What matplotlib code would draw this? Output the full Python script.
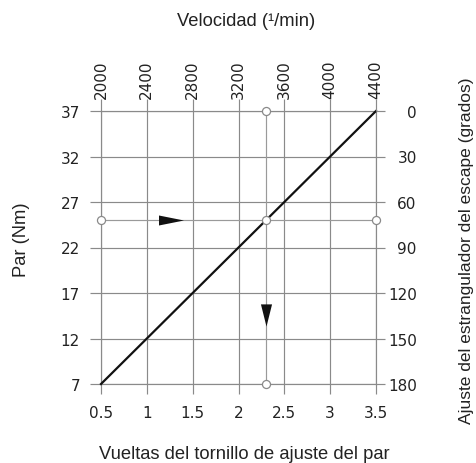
import matplotlib
matplotlib.use("Agg")
import matplotlib.pyplot as plt

# ---- data ----
turns_ticks = [0.5, 1, 1.5, 2, 2.5, 3, 3.5]
speed_ticks = [2000, 2400, 2800, 3200, 3600, 4000, 4400]
torque_ticks = [7, 12, 17, 22, 27, 32, 37]
throttle_ticks = [0, 30, 60, 90, 120, 150, 180]

line_turns = [0.5, 3.5]
line_torque = [7, 37]

ref_turns = 2.3
ref_torque = 25
arrow_h_turns = 1.26
arrow_v_torque = 14.6

title = "Velocidad (¹/min)"
xlabel = "Vueltas del tornillo de ajuste del par"
ylabel = "Par (Nm)"
y2label = "Ajuste del estrangulador del escape (grados)"

W, H = 476, 464
fig = plt.figure(figsize=(W / 100, H / 100), dpi=100)
ax = fig.add_axes([101 / W, 1 - 385 / H, 275 / W, 273 / H])

grid_c = "#8a8a8a"
num_font = "DejaVu Sans"
txt_font = "Liberation Sans"
nsize = 11
tsize = 13.2
glw = 0.85

ax.set_xlim(turns_ticks[0], turns_ticks[-1])
ax.set_ylim(torque_ticks[0], torque_ticks[-1])
ax.set_xticks(turns_ticks)
ax.set_xticklabels([f"{t:g}" for t in turns_ticks], family=num_font, fontsize=nsize)
ax.set_yticks(torque_ticks)
ax.set_yticklabels([str(t) for t in torque_ticks], family=num_font, fontsize=nsize)
ax.grid(True, color=grid_c, lw=glw)
for s in ax.spines.values():
    s.set_color(grid_c)
    s.set_linewidth(glw)
ax.tick_params(axis="x", length=7.2, width=glw, color=grid_c, pad=8.2, labelcolor="#222222")
ax.tick_params(axis="y", length=7.9, width=glw, color=grid_c, pad=7.2, labelcolor="#222222")

# top axis: speed
axt = ax.twiny()
axt.set_xlim(speed_ticks[0], speed_ticks[-1])
axt.set_xticks(speed_ticks)
axt.set_xticklabels([str(s) for s in speed_ticks], rotation=90, family=num_font,
                    fontsize=nsize, va="bottom")
axt.tick_params(axis="x", length=8.6, width=glw, color=grid_c, pad=0.5, labelcolor="#222222")
for s in axt.spines.values():
    s.set_visible(False)

# right axis: throttle
axr = ax.twinx()
axr.set_ylim(throttle_ticks[-1], throttle_ticks[0])
axr.set_yticks(throttle_ticks)
axr.set_yticklabels([str(t) for t in throttle_ticks], family=num_font, fontsize=nsize, ha="right")
axr.tick_params(axis="y", length=6.5, width=glw, color=grid_c, pad=22.8, labelcolor="#222222")
for s in axr.spines.values():
    s.set_visible(False)

# reference lines
ax.plot([ref_turns, ref_turns], [torque_ticks[0], torque_ticks[-1]], color="#9a9a9a", lw=glw, zorder=3)
ax.plot([turns_ticks[0], turns_ticks[-1]], [ref_torque, ref_torque], color="#9a9a9a", lw=glw, zorder=3)

# main line
ax.plot(line_turns, line_torque, color="#111111", lw=1.6, zorder=4, clip_on=False)

# circles
cx = [ref_turns, ref_turns, ref_turns, turns_ticks[0], turns_ticks[-1]]
cy = [torque_ticks[-1], ref_torque, torque_ticks[0], ref_torque, ref_torque]
ax.plot(cx, cy, "o", ms=5.8, mfc="white", mec="#8a8a8a", mew=0.9, zorder=5, clip_on=False)

# arrows
right_tri = [(-1, -0.4), (1, 0), (-1, 0.4), (-1, -0.4)]
down_tri = [(-0.5, 1), (0.5, 1), (0, -1), (-0.5, 1)]
ax.plot([arrow_h_turns], [ref_torque], marker=right_tri, ms=18, color="#111111", mew=0, zorder=6)
ax.plot([ref_turns], [arrow_v_torque], marker=down_tri, ms=16, color="#111111", mew=0, zorder=6)

# labels
fig.text(246 / W, 1 - 22 / H, title, ha="center", va="center", family=txt_font, fontsize=tsize, color="#222222")
fig.text(244 / W, 1 - 455 / H, xlabel, ha="center", va="center", family=txt_font, fontsize=tsize, color="#222222")
fig.text(21 / W, 1 - 240 / H, ylabel, ha="center", va="center", rotation=90, family=txt_font, fontsize=tsize, color="#222222")
fig.text(466 / W, 1 - 251 / H, y2label, ha="center", va="center", rotation=90, family=txt_font, fontsize=12.5, color="#222222")

fig.savefig("out.png", dpi=100)
